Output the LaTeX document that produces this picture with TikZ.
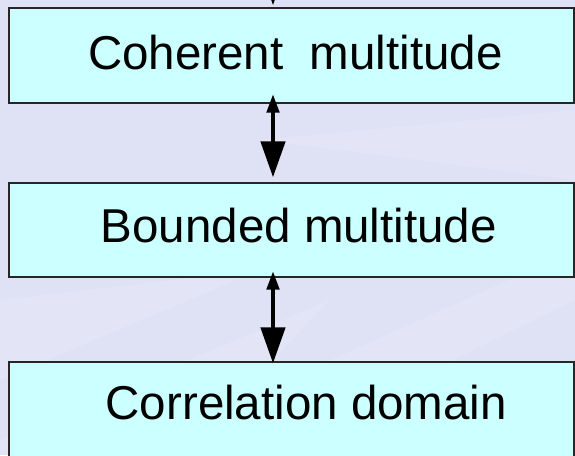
\documentclass[tikz,border=0pt]{standalone}
\usepackage{fontspec}
\setmainfont{Liberation Sans}
\usetikzlibrary{arrows.meta}
\definecolor{slide}{HTML}{DFE1F5}
\definecolor{boxfill}{HTML}{CCFFFF}
\tikzset{
  stagebox/.style={rectangle, fill=boxfill, draw=black!85, line width=1.3pt,
    inner sep=0pt, minimum width=565pt},
  stagetext/.style={anchor=base west, inner sep=0pt,
    font=\fontsize{47.5}{57}\selectfont},
  link/.style={line width=4.5pt,
    {Triangle[length=19pt,width=12pt]}-{Triangle[length=36pt,width=24pt]}},
  streak/.style={fill=white, opacity=0.13, draw=none}
}
\begin{document}
\begin{tikzpicture}[x=1pt,y=-1pt]
  % slide background
  \fill[slide] (0,0) rectangle (575,455);
  \useasboundingbox (0,0) rectangle (575,455);
  \clip (0,0) rectangle (575,455);
  % faint diagonal light streaks
  \fill[streak] (0,300) -- (260,270) -- (0,380) -- cycle;
  \fill[streak] (0,440) -- (330,300) -- (180,455) -- (0,455) -- cycle;
  \fill[streak] (120,455) -- (575,250) -- (575,300) -- (260,455) -- cycle;
  \fill[streak] (575,110) -- (260,140) -- (575,180) -- cycle;

  % stage boxes
  \node[stagebox, minimum height=95pt]  (b1) at (291.5,55.5) {};
  \node[stagebox, minimum height=94pt]  (b2) at (291.5,230) {};
  \node[stagebox, minimum height=120pt] (b3) at (291.5,422) {};

  % labels
  \node[stagetext] (t1) at (88,69.5)   {Coherent\ \ multitude};
  \node[stagetext] (t2) at (100.5,242.5) {Bounded multitude};
  \node[stagetext] (t3) at (105.5,419.5) {Correlation domain};

  % connectors
  \coordinate (ax) at (273,0);
  \coordinate (above) at (273,-80);
  \draw[link] (above) -- ([yshift=2pt]ax |- b1.north);
  \draw[link, shorten <=-10pt, shorten >=5pt] (ax |- b1.south) -- (ax |- b2.north);
  \draw[link, shorten <=-7pt, shorten >=-2pt] (ax |- b2.south) -- (ax |- b3.north);
\end{tikzpicture}
\end{document}
